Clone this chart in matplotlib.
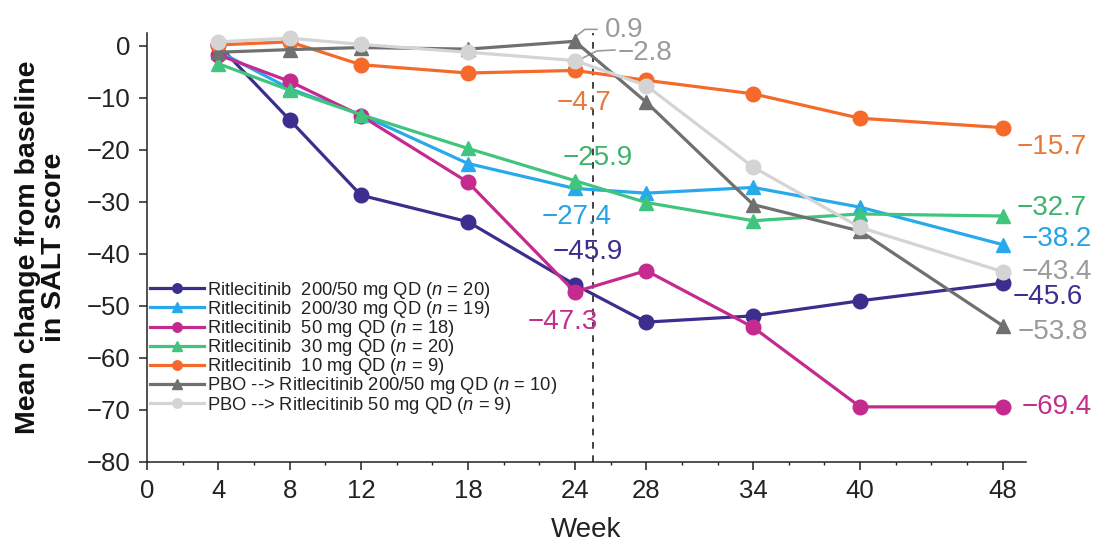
import matplotlib
matplotlib.use("Agg")
import matplotlib.pyplot as plt
import matplotlib.transforms as mtransforms
from matplotlib.ticker import MultipleLocator, FixedLocator

plt.rcParams['font.family'] = ['Liberation Sans', 'DejaVu Sans']
plt.rcParams['mathtext.fontset'] = 'custom'
plt.rcParams['mathtext.rm'] = 'Liberation Sans'
plt.rcParams['mathtext.it'] = 'Liberation Sans:italic'

# ---------------- data ----------------
weeks = [4, 8, 12, 18, 24, 28, 34, 40, 48]
x_ticks = [0, 4, 8, 12, 18, 24, 28, 34, 40, 48]
y_ticks = [0, -10, -20, -30, -40, -50, -60, -70, -80]

names = [
    r'Ritlecitinib  200/50 mg QD ($n$ = 20)',
    r'Ritlecitinib  200/30 mg QD ($n$ = 19)',
    r'Ritlecitinib  50 mg QD ($n$ = 18)',
    r'Ritlecitinib  30 mg QD ($n$ = 20)',
    r'Ritlecitinib  10 mg QD ($n$ = 9)',
    r'PBO --> Ritlecitinib 200/50 mg QD ($n$ = 10)',
    r'PBO --> Ritlecitinib 50 mg QD ($n$ = 9)',
]
r200_50 = [0.2, -14.2, -28.7, -33.8, -45.9, -53.1, -51.9, -49.0, -45.6]
r200_30 = [-1.0, -8.2, -13.2, -22.6, -27.4, -28.3, -27.2, -31.0, -38.2]
r50 = [-1.7, -6.8, -13.4, -26.2, -47.3, -43.2, -54.1, -69.4, -69.4]
r30 = [-3.4, -8.5, -13.2, -19.7, -25.9, -30.1, -33.6, -32.3, -32.7]
r10 = [0.2, 0.8, -3.6, -5.2, -4.7, -6.6, -9.2, -13.9, -15.7]
pbo200_50 = [-1.2, -0.7, -0.3, -0.6, 0.9, -10.8, -30.5, -35.6, -53.8]
pbo50 = [0.8, 1.5, 0.3, -1.2, -2.8, -7.6, -23.3, -34.9, -43.4]
series = [r200_50, r200_30, r50, r30, r10, pbo200_50, pbo50]

colors = ['#3b2e8e', '#27a9ec', '#c52a8f', '#3fc57d', '#f5692b', '#707070', '#d4d4d4']
label_colors = ['#3b2e8e', '#27a3e4', '#c12f8c', '#3db36c', '#e8793a', '#9b9b9b', '#9b9b9b']
markers = ['o', '^', 'o', '^', 'o', '^', 'o']

# value labels: (series index, week, text, dx pt, dy pt)
labels = [
    (4, 48, '\u221215.7', 10, -14),
    (3, 48, '\u221232.7', 10, 6),
    (1, 48, '\u221238.2', 13.5, 4),
    (6, 48, '\u221243.4', 13.5, 0),
    (0, 48, '\u221245.6', 7, -10),
    (5, 48, '\u221253.8', 11, -4.5),
    (2, 48, '\u221269.4', 13.5, 0),
    (5, 24, '0.9', 21.5, 8),
    (6, 24, '\u22122.8', 31, 5.5),
    (4, 24, '\u22124.7', -13, -23.5),
    (3, 24, '\u221225.9', -8.6, 16.3),
    (1, 24, '\u221227.4', -23.8, -20.5),
    (0, 24, '\u221245.9', -15.8, 23.5),
    (2, 24, '\u221247.3', -33.8, -21.6),
]
# leader lines for the placebo labels (offsets in points)
leaders = [
    (5, 24, [(0, 3), (7.2, 8.6), (15.8, 8.6)]),
    (6, 24, [(5.8, 1.9), (15.8, 6.9), (28.8, 7.6)]),
]

# ---------------- figure ----------------
fig = plt.figure(figsize=(10.96, 5.47), dpi=100)
ax = fig.add_axes([0.1341, 0.1554, 0.802, 0.7843])

for i, (vals, c, m, nm) in enumerate(zip(series, colors, markers, names)):
    ax.plot(weeks, vals, color=c, marker=m, markersize=10.5, linewidth=2.3,
            label=nm, zorder=3 + i * 0.1, clip_on=False)

ax.axvline(25, color='#222222', linestyle=(0, (4, 4)), linewidth=1.2, zorder=2)

for si, wk, txt, dx, dy in labels:
    val = series[si][weeks.index(wk)]
    ax.annotate(txt, xy=(wk, val), xytext=(dx, dy), textcoords='offset points',
                ha='left', va='center', fontsize=20, color=label_colors[si],
                annotation_clip=False)

for si, wk, pts in leaders:
    val = series[si][weeks.index(wk)]
    base = mtransforms.ScaledTranslation(wk, val, ax.transData)
    tr = mtransforms.Affine2D().scale(1 / 72.0) + fig.dpi_scale_trans + base
    ax.plot([p[0] for p in pts], [p[1] for p in pts], color='#9b9b9b',
            linewidth=1.2, transform=tr, clip_on=False)

ax.set_xlim(0, 49.3)
ax.set_ylim(-80, 2.5)
ax.xaxis.set_major_locator(FixedLocator(x_ticks))
ax.xaxis.set_minor_locator(MultipleLocator(2))
ax.yaxis.set_major_locator(FixedLocator(y_ticks))
ax.set_yticklabels([('\u2212%d' % -v) if v < 0 else '0' for v in y_ticks])

for s in ['top', 'right']:
    ax.spines[s].set_visible(False)
for s in ['left', 'bottom']:
    ax.spines[s].set_linewidth(1.1)
    ax.spines[s].set_color('#222222')

ax.tick_params(axis='both', which='major', direction='out', length=6, width=1.1,
               colors='#222222', labelsize=18.5, labelcolor='#222222')
ax.tick_params(axis='x', which='minor', direction='out', length=2.5, width=1.0,
               colors='#222222')
ax.tick_params(axis='y', which='major', pad=6)
ax.tick_params(axis='x', which='major', pad=6)

ax.set_xlabel('Week', fontsize=20, color='#222222', labelpad=10)
ax.set_ylabel('Mean change from baseline\nin SALT score', fontsize=20.5,
              fontweight='bold', color='#111111', labelpad=14, linespacing=1.0)

leg = ax.legend(loc='upper left', bbox_to_anchor=(0.004, 0.425), frameon=False,
                fontsize=13.2, labelspacing=-0.1, handlelength=2.9,
                handletextpad=0.2, borderpad=0, borderaxespad=0,
                markerscale=0.65)
for t in leg.get_texts():
    t.set_color('#222222')

fig.savefig('out.png', dpi=100)
